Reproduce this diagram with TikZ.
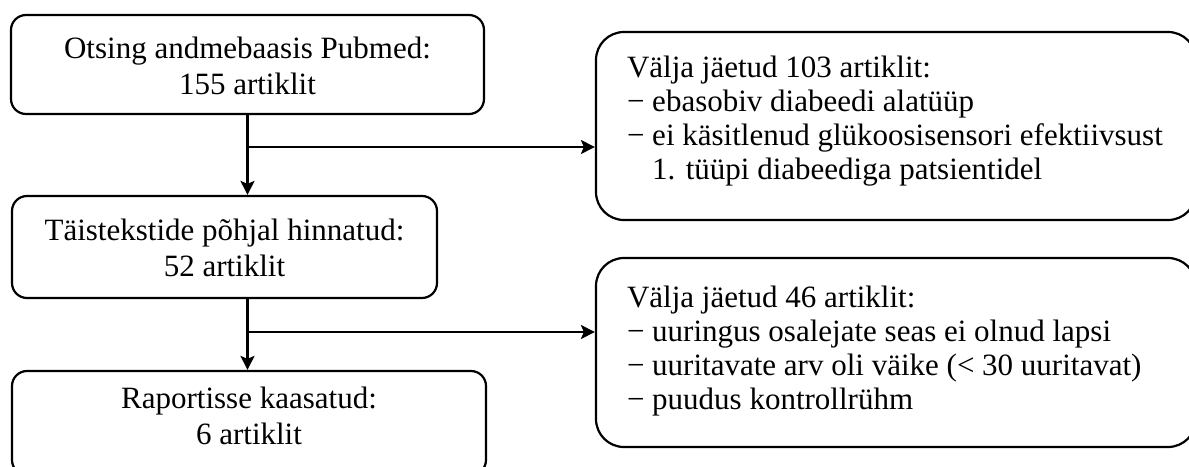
\documentclass[tikz,border=0pt]{standalone}
\usepackage{fontspec}
\setmainfont{Liberation Serif}
\usetikzlibrary{arrows.meta}
\tikzset{
  lbox/.style={draw, line width=2.2pt, rounded corners=15pt, inner sep=0pt},
  rbox/.style={draw, line width=2.2pt, rounded corners=28pt, inner sep=0pt},
  arr/.style={line width=2.2pt, -{Stealth[length=14pt,width=14pt,inset=3pt]}},
}
\newcommand{\lefttext}[4]{\parbox[c][#1][t]{#2}{\fontsize{31pt}{36.5pt}\selectfont\centering\rule{0pt}{#3}#4}}
\newcommand{\righttext}[4]{\parbox[c][#1][t]{#2}{\fontsize{31pt}{34pt}\selectfont\raggedright\leftskip=31pt\rule{0pt}{#3}#4}}
\begin{document}
\begin{tikzpicture}[x=1pt, y=-1pt]
\useasboundingbox (0,0) rectangle (1189,466);

\node[lbox] (b1) at (247.5,64.5) {\lefttext{99pt}{473pt}{43pt}{Otsing andmebaasis Pubmed:\\155 artiklit}};
\node[lbox] (b2) at (224.5,247) {\lefttext{102pt}{425pt}{44pt}{Täistekstide põhjal hinnatud:\\52 artiklit}};
\node[lbox] (b3) at (249,423) {\lefttext{104pt}{474pt}{37pt}{Raportisse kaasatud:\\6 artiklit}};

\node[rbox] (r1) at (896,126) {\righttext{188pt}{600pt}{45pt}{Välja jäetud 103 artiklit:\\− ebasobiv diabeedi alatüüp\\− ei käsitlenud glükoosisensori efektiivsust\\\hphantom{−\ }1. tüüpi diabeediga patsientidel}};
\node[rbox] (r2) at (896,352.5) {\righttext{189pt}{600pt}{49pt}{Välja jäetud 46 artiklit:\\− uuringus osalejate seas ei olnud lapsi\\− uuritavate arv oli väike (< 30 uuritavat)\\− puudus kontrollrühm}};

\coordinate (j1) at (247.5,147);
\coordinate (j2) at (247.5,332);

\draw[arr] (b1.south) -- (b1.south |- b2.north);
\draw[arr] (j1) -- (j1 -| r1.west);
\draw[arr] (b1.south |- b2.south) -- (b1.south |- b3.north);
\draw[arr] (j2) -- (j2 -| r2.west);
\end{tikzpicture}
\end{document}
